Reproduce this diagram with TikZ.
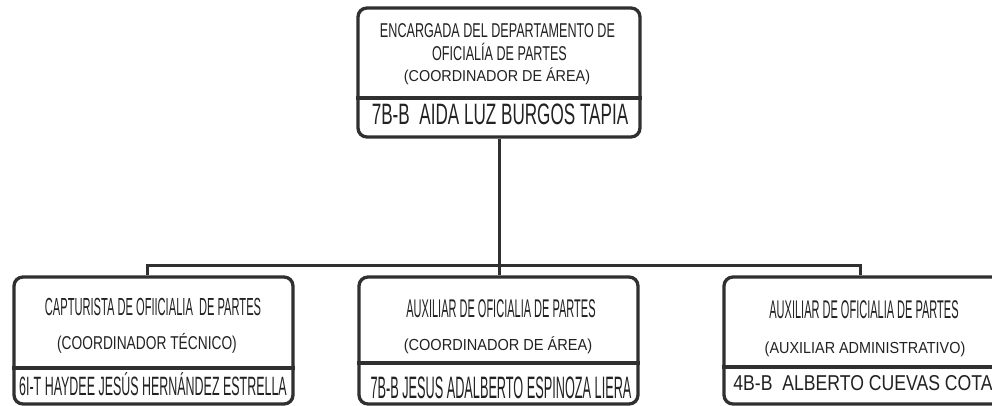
\documentclass[tikz,border=0pt]{standalone}
\usepackage{fontspec}
\setmainfont{Liberation Sans}
\definecolor{ln}{HTML}{303030}
\definecolor{tx}{HTML}{222222}
\newcommand\sq[3]{\scalebox{#1}[1]{\fontsize{#2}{#2}\selectfont #3}}
\tikzset{
  box/.style={draw=ln, line width=3.3pt, rounded corners=9pt, inner sep=0pt, fill=white},
  divline/.style={draw=ln, line width=3.2pt},
  conn/.style={draw=ln, line width=3pt},
  txt/.style={inner sep=0pt, anchor=base, text=tx},
}
\begin{document}
\begin{tikzpicture}[x=1pt,y=-1pt]
\useasboundingbox (0,0) rectangle (992,406);
\clip (0,0) rectangle (992,406);
% connectors
\coordinate (bl) at (147,265);
\coordinate (br) at (860,265);
% boxes
\node[box, minimum width=282pt, minimum height=129pt] (top) at (499,72.5) {};
\node[box, minimum width=279pt, minimum height=127pt] (left) at (153.5,340.5) {};
\node[box, minimum width=279pt, minimum height=127pt] (mid) at (498.5,340.5) {};
\node[box, minimum width=279pt, minimum height=127pt] (right) at (863.5,340.5) {};
\draw[conn] (top.south) -- (mid.north -| top.south);
\draw[conn] (left.north -| bl) -- (bl) -- (br) -- (right.north -| br);
% dividers
\draw[divline] (top.west |- 0,98) -- (top.east |- 0,98);
\draw[divline] (left.west |- 0,368) -- (left.east |- 0,368);
\draw[divline] (mid.west |- 0,363) -- (mid.east |- 0,363);
\draw[divline] (right.west |- 0,367) -- (right.east |- 0,367);
% top texts
\node[txt] (t1) at (497.5,38) {\sq{0.63}{20}{ENCARGADA DEL DEPARTAMENTO DE}};
\node[txt] (t2) at (499.5,61) {\sq{0.63}{20}{OFICIALÍA DE PARTES}};
\node[txt] (t3) at (497,82) {\sq{0.91}{15.8}{(COORDINADOR DE ÁREA)}};
\node[txt] (t4) at (500,125) {\sq{0.58}{29.5}{7B-B\ \ AIDA LUZ BURGOS TAPIA}};
% left texts
\node[txt] (l1) at (153,315) {\sq{0.45}{24.7}{CAPTURISTA DE OFIICIALIA\ \ DE PARTES}};
\node[txt] (l2) at (147,349) {\sq{0.74}{18.6}{(COORDINADOR TÉCNICO)}};
\node[txt] (l3) at (153,395) {\sq{0.47}{26.5}{6I-T HAYDEE JESÚS HERNÁNDEZ ESTRELLA}};
% middle texts
\node[txt] (m1) at (501,317) {\sq{0.43}{25.6}{AUXILIAR DE OFICIALIA DE PARTES}};
\node[txt] (m2) at (498,350) {\sq{0.91}{16}{(COORDINADOR DE ÁREA)}};
\node[txt] (m3) at (501,398) {\sq{0.41}{31}{7B-B JESUS ADALBERTO ESPINOZA LIERA}};
% right texts
\node[txt] (r1) at (864,318) {\sq{0.43}{25.6}{AUXILIAR DE OFICIALIA DE PARTES}};
\node[txt] (r2) at (865,353) {\sq{0.9}{16}{(AUXILIAR ADMINISTRATIVO)}};
\node[txt] (r3) at (863,390) {\sq{0.82}{21.5}{4B-B\ \ ALBERTO CUEVAS COTA}};
\end{tikzpicture}
\end{document}
